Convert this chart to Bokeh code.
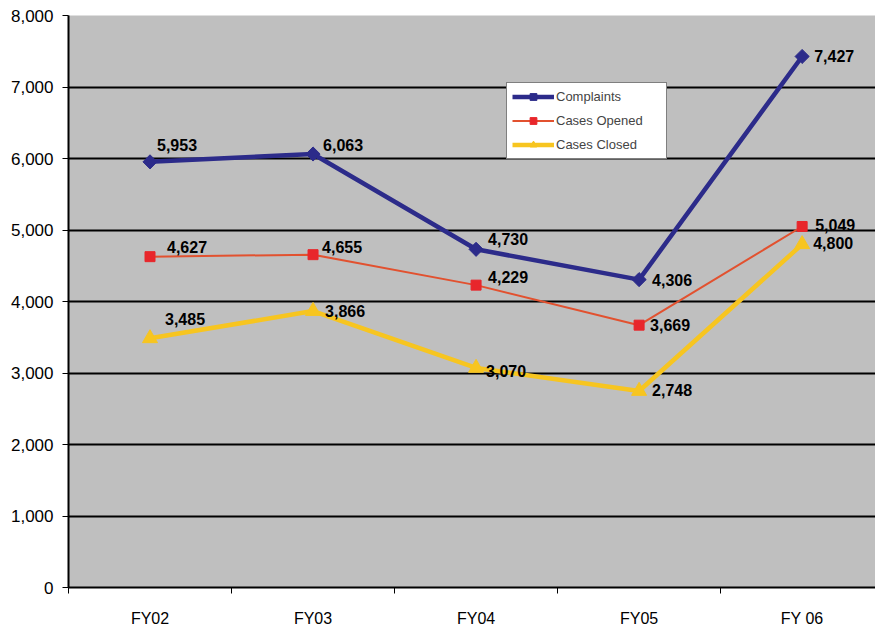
import math
from bokeh.plotting import figure
from bokeh.models import ColumnDataSource, FixedTicker, Range1d, Legend, LegendItem, NumeralTickFormatter
from bokeh.core.properties import value
from bokeh.embed import file_html
from bokeh.resources import INLINE

categories = ["FY02", "FY03", "FY04", "FY05", "FY 06"]
complaints = [5953, 6063, 4730, 4306, 7427]
cases_opened = [4627, 4655, 4229, 3669, 5049]
cases_closed = [3485, 3866, 3070, 2748, 4800]
y_ticks = [0, 1000, 2000, 3000, 4000, 5000, 6000, 7000, 8000]

# label offsets in screen pixels (style only)
off_complaints = [(7, -17), (10, -9), (12, -10), (13, 0), (12, 0)]
off_opened = [(17, -10), (9, -8), (12, -8), (11, 0), (13, -1)]
off_closed = [(15, -19), (12, 0), (10, 3), (13, -1), (11, -1)]

NAVY = "#2c2b8a"
RED = "#e8262b"
RED_LINE = "#e2512f"
YELLOW = "#f7c520"
BG = "#bfbfbf"

xs = list(range(len(categories)))

p = figure(width=875, height=629, output_backend="svg", toolbar_location=None,
           x_range=Range1d(-0.5, 4.45), y_range=Range1d(0, 8000),
           min_border_left=68, min_border_top=15, min_border_bottom=41, min_border_right=0)
p.outline_line_color = None
p.background_fill_color = BG
p.border_fill_color = "white"

# grid
p.xgrid.visible = False
p.ygrid.ticker = FixedTicker(ticks=y_ticks)
p.ygrid.grid_line_color = "black"
p.ygrid.grid_line_width = 2

# axes
p.yaxis.ticker = FixedTicker(ticks=y_ticks)
p.yaxis.formatter = NumeralTickFormatter(format="0,0")
p.yaxis.axis_line_color = "black"
p.yaxis.axis_line_width = 2
p.yaxis.major_tick_line_color = "black"
p.yaxis.major_tick_line_width = 1
p.yaxis.major_tick_out = 6
p.yaxis.major_tick_in = 0
p.yaxis.minor_tick_line_color = None
p.yaxis.major_label_text_font = "Liberation Sans"
p.yaxis.major_label_text_font_size = "17px"
p.yaxis.major_label_text_color = "black"
p.yaxis.major_label_standoff = 9

p.xaxis.ticker = FixedTicker(ticks=xs, minor_ticks=[i + 0.5 for i in range(-1, len(categories))])
p.xaxis.major_label_overrides = {i: c for i, c in enumerate(categories)}
p.xaxis.axis_line_color = "black"
p.xaxis.axis_line_width = 2
p.xaxis.major_tick_line_color = None
p.xaxis.minor_tick_line_color = "black"
p.xaxis.minor_tick_out = 6
p.xaxis.minor_tick_in = 0
p.xaxis.major_label_text_font = "Liberation Sans"
p.xaxis.major_label_text_font_size = "16px"
p.xaxis.major_label_text_color = "black"
p.xaxis.major_label_standoff = 16

src_c = ColumnDataSource(dict(x=xs, y=complaints))
src_o = ColumnDataSource(dict(x=xs, y=cases_opened))
src_z = ColumnDataSource(dict(x=xs, y=cases_closed))

lc = p.line("x", "y", source=src_c, line_color=NAVY, line_width=4.5)
mc = p.scatter("x", "y", source=src_c, marker="square", size=10, angle=math.pi / 4,
               fill_color=NAVY, line_color=NAVY)
lo = p.line("x", "y", source=src_o, line_color=RED_LINE, line_width=2)
mo = p.scatter("x", "y", source=src_o, marker="square", size=10, fill_color=RED, line_color=RED)
lz = p.line("x", "y", source=src_z, line_color=YELLOW, line_width=4.5)
mz = p.scatter("x", "y", source=src_z, marker="triangle", size=15, fill_color=YELLOW, line_color=YELLOW)

def add_labels(vals, offs):
    src = ColumnDataSource(dict(
        x=xs, y=vals, t=[f"{v:,}" for v in vals],
        dx=[o[0] for o in offs], dy=[o[1] for o in offs]))
    p.text("x", "y", text="t", source=src, x_offset="dx", y_offset="dy",
           text_font=value("Liberation Sans"), text_font_style="bold",
           text_font_size="16px", text_color="black",
           text_align="left", text_baseline="middle")

add_labels(complaints, off_complaints)
add_labels(cases_opened, off_opened)
add_labels(cases_closed, off_closed)

legend = Legend(items=[
    LegendItem(label="Complaints", renderers=[lc, mc]),
    LegendItem(label="Cases Opened", renderers=[lo, mo]),
    LegendItem(label="Cases Closed", renderers=[lz, mz]),
], location=(438, 428))
legend.background_fill_color = "white"
legend.background_fill_alpha = 1
legend.border_line_color = "black"
legend.border_line_width = 1.5
legend.label_text_font = "Liberation Sans"
legend.label_text_font_size = "13px"
legend.label_height = 17
legend.label_width = 105
legend.glyph_height = 17
legend.glyph_width = 42
legend.spacing = 7
legend.padding = 5
legend.margin = 0
legend.label_standoff = 2
legend.label_text_baseline = "middle"
p.add_layout(legend, "center")

open("out.html", "w").write(file_html(p, INLINE))
